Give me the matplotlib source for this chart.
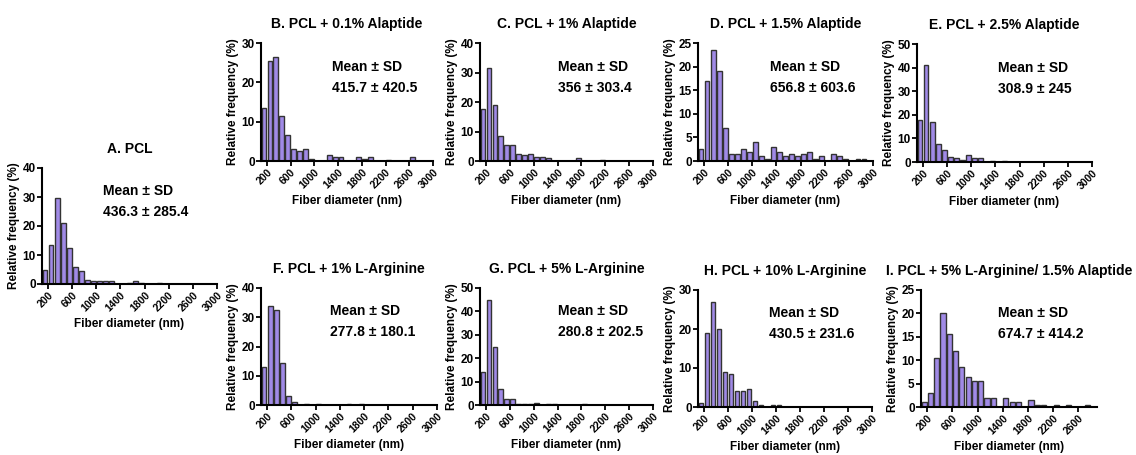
import matplotlib
matplotlib.use("Agg")
import matplotlib.pyplot as plt

plt.rcParams['font.family'] = ['Liberation Sans', 'DejaVu Sans']
plt.rcParams['font.weight'] = 'bold'

# bin centres (nm), bin width 100
bins = [150, 250, 350, 450, 550, 650, 750, 850, 950, 1050, 1150, 1250, 1350, 1450,
        1550, 1650, 1750, 1850, 1950, 2050, 2150, 2250, 2350, 2450, 2550, 2650,
        2750, 2850]

# relative frequency (%) per bin
freq_a = [5, 13.5, 29.5, 21, 12.5, 6, 4.5, 1.5, 1, 1, 1, 1, 0, 0, 0.3, 1, 0.4, 0, 0, 0.4]
freq_b = [13.5, 25.5, 26.5, 11.5, 6.5, 3, 2.5, 3, 0.5, 0, 0, 1.5, 1, 1, 0, 0, 1, 0.5, 1,
          0, 0, 0.3, 0, 0, 0, 1]
freq_c = [17.5, 31.5, 19, 8.5, 5.5, 5.5, 2.5, 2, 2.5, 1.5, 1.5, 1, 0, 0, 0, 0, 1, 0, 0, 0, 0.4]
freq_d = [2.5, 17, 23.5, 19, 7, 1.5, 1.5, 2.5, 2, 4, 1, 0.5, 3, 2, 1, 1.5, 1, 1.5, 2, 0.5,
          1, 0, 1.5, 1, 0.5, 0, 0.5, 0.5]
freq_e = [18, 41, 17, 7.5, 5, 2, 1.5, 1, 3, 1.5, 1.5, 0, 0.3, 0, 0.3]
freq_f = [13, 34, 32.5, 14.5, 3, 1, 0, 0.3, 0, 0.3, 0, 0, 0, 0, 0.3, 0, 0.3]
freq_g = [14, 45, 25, 7, 2.5, 2.5, 0.3, 0.3, 0.3, 1, 0, 0.3, 0.3, 0, 0, 0, 0, 0.3]
freq_h = [1, 19, 27, 20, 9, 8.5, 4, 4, 4.5, 1.5, 0.5, 0, 0.5, 0.5]
freq_i = [1, 3, 10.5, 20, 15.5, 12, 8.5, 6.5, 5.5, 5.5, 2, 2, 0, 2, 1, 1, 0, 1.5, 0.5, 0.5,
          0, 0.5, 0, 0.5, 0, 0, 0.5]

titles = ["A. PCL", "B. PCL + 0.1% Alaptide", "C. PCL + 1% Alaptide",
          "D. PCL + 1.5% Alaptide", "E. PCL + 2.5% Alaptide",
          "F. PCL + 1% L-Arginine", "G. PCL + 5% L-Arginine",
          "H. PCL + 10% L-Arginine", "I. PCL + 5% L-Arginine/ 1.5% Alaptide"]
stats = ["436.3 ± 285.4", "415.7 ± 420.5", "356 ± 303.4", "656.8 ± 603.6",
         "308.9 ± 245", "277.8 ± 180.1", "280.8 ± 202.5", "430.5 ± 231.6",
         "674.7 ± 414.2"]
freqs = [freq_a, freq_b, freq_c, freq_d, freq_e, freq_f, freq_g, freq_h, freq_i]
ymax = [40, 30, 40, 25, 50, 40, 50, 30, 25]
ystep = [10, 10, 10, 5, 10, 10, 10, 10, 5]

# axes boxes in pixels: left, right, top, bottom
W, H = 1136, 455
boxes = [(42, 217, 168, 284), (261, 433, 43, 161), (480, 653, 43, 161),
         (698, 873, 43, 161), (917, 1092, 44, 162), (261, 437, 288, 405),
         (480, 653, 288, 405), (698, 872, 290, 407), (921, 1097, 290, 407)]
text_x = [0.35, 0.41, 0.45, 0.41, 0.46, 0.39, 0.45, 0.41, 0.44]

fig = plt.figure(figsize=(W / 100, H / 100), dpi=100)

for k in range(9):
    l, r, t, b = boxes[k]
    ax = fig.add_axes([l / W, 1 - b / H, (r - l) / W, (b - t) / H])
    f = freqs[k]
    ax.bar(bins[:len(f)], f, width=80, color='#a08ae6', edgecolor='#333333', linewidth=1.0)

    if k == 8:
        ax.set_xlim(100, 2900)
        ax.set_xticks(range(200, 2601, 400))
    else:
        ax.set_xlim(100, 3000)
        ax.set_xticks(range(200, 3001, 400))
    ax.set_ylim(0, ymax[k])
    ax.set_yticks(range(0, ymax[k] + 1, ystep[k]))
    ax.tick_params(axis='x', labelrotation=45, labelsize=7.5, length=3.5, width=1.3, pad=1)
    ax.tick_params(axis='y', labelsize=8.5, length=3.5, width=1.3, pad=1)
    for lab in ax.get_xticklabels():
        lab.set_ha('right')
        lab.set_rotation_mode('anchor')
        lab.set_fontweight('bold')
    for lab in ax.get_yticklabels():
        lab.set_fontweight('bold')

    for s in ['top', 'right']:
        ax.spines[s].set_visible(False)
    for s in ['left', 'bottom']:
        ax.spines[s].set_linewidth(1.5)

    ax.set_title(titles[k], fontsize=10, fontweight='bold', pad=11)
    ax.set_xlabel("Fiber diameter (nm)", fontsize=8.5, fontweight='bold', labelpad=3)
    ax.set_ylabel("Relative frequency (%)", fontsize=8.5, fontweight='bold', labelpad=2)
    ax.text(text_x[k], 0.80, "Mean ± SD", transform=ax.transAxes, fontsize=10,
            fontweight='bold', va='center')
    ax.text(text_x[k], 0.62, stats[k], transform=ax.transAxes, fontsize=10,
            fontweight='bold', va='center')

fig.savefig("out.png", dpi=100)
